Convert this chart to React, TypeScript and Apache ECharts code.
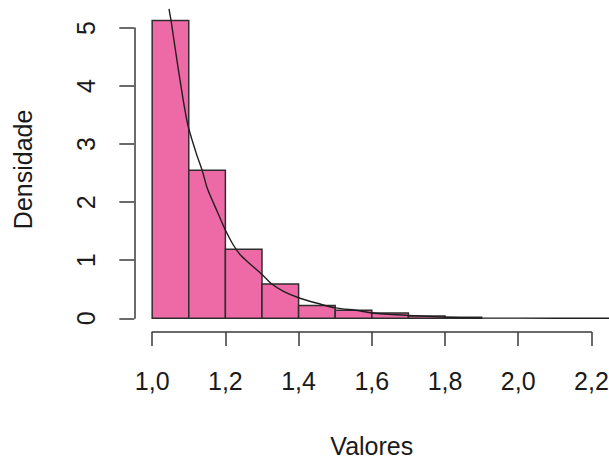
import { useEffect, useRef } from "react";
import * as echarts from "echarts";

// Histogram bins (density scale)
const binStarts = [1.0, 1.1, 1.2, 1.3, 1.4, 1.5, 1.6, 1.7, 1.8];
const binEnds = [1.1, 1.2, 1.3, 1.4, 1.5, 1.6, 1.7, 1.8, 1.9];
const densities = [5.13, 2.55, 1.19, 0.59, 0.22, 0.14, 0.09, 0.04, 0.02];

// Density curve
const curveX = [1.046, 1.052, 1.07, 1.096, 1.12, 1.137, 1.15, 1.17, 1.186, 1.2, 1.22, 1.24, 1.265, 1.301, 1.325, 1.36, 1.402, 1.456, 1.5, 1.566, 1.6, 1.7, 1.8, 1.89, 2.0, 2.248];
const curveY = [5.33, 5.11, 4.35, 3.37, 2.85, 2.54, 2.25, 1.95, 1.72, 1.52, 1.28, 1.1, 0.95, 0.75, 0.6, 0.46, 0.35, 0.25, 0.18, 0.13, 0.09, 0.05, 0.02, 0.006, 0.002, 0.0];

// Axis ticks
const xTicks = [1.0, 1.2, 1.4, 1.6, 1.8, 2.0, 2.2];
const xTickLabels = ["1,0", "1,2", "1,4", "1,6", "1,8", "2,0", "2,2"];
const yTicks = [0, 1, 2, 3, 4, 5];
const yTickLabels = ["0", "1", "2", "3", "4", "5"];

const W = 609;
const H = 459;
const X_MIN = 0.952;
const X_MAX = 2.248;
const Y_MIN = -0.2052;
const Y_MAX = 5.3352;
const PLOT_LEFT = 134.6;
const PLOT_RIGHT = 609;
const PLOT_TOP = 8.6;
const PLOT_BOTTOM = 330.2;
const KX = (PLOT_RIGHT - PLOT_LEFT) / (X_MAX - X_MIN);
const KY = (PLOT_BOTTOM - PLOT_TOP) / (Y_MAX - Y_MIN);
const FONT = "'Liberation Sans', Arial, sans-serif";
const TEXT = "#1a1a1a";
const AXIS = "#3a3a3a";

export default function App() {
  const ref = useRef<HTMLDivElement>(null);
  useEffect(() => {
    if (!ref.current) return;
    const chart = echarts.init(ref.current, undefined, { renderer: "svg" });
    const xAxisLeft = PLOT_LEFT + (xTicks[0] - X_MIN) * KX;
    const xAxisWidth = (xTicks[xTicks.length - 1] - xTicks[0]) * KX;
    const yAxisTop = PLOT_BOTTOM - (yTicks[yTicks.length - 1] - Y_MIN) * KY;
    const yAxisBottom = PLOT_BOTTOM - (yTicks[0] - Y_MIN) * KY;
    const findLabel = (ticks: number[], labels: string[], v: number) => {
      const i = ticks.findIndex((t) => Math.abs(t - v) < 1e-6);
      return i >= 0 ? labels[i] : "";
    };
    chart.setOption({
      animation: false,
      backgroundColor: "#ffffff",
      grid: [
        { left: PLOT_LEFT, top: PLOT_TOP, width: PLOT_RIGHT - PLOT_LEFT, height: PLOT_BOTTOM - PLOT_TOP, containLabel: false, outerBoundsMode: "none" },
        { left: xAxisLeft, top: 331, width: xAxisWidth, height: 1, containLabel: false, outerBoundsMode: "none" },
        { left: 134.3, top: yAxisTop, width: 1, height: yAxisBottom - yAxisTop, containLabel: false, outerBoundsMode: "none" },
      ],
      xAxis: [
        {
          gridIndex: 0, type: "value", min: X_MIN, max: X_MAX,
          axisLine: { show: false }, axisTick: { show: false }, axisLabel: { show: false }, splitLine: { show: false },
          name: "Valores", nameLocation: "middle", nameGap: 103,
          nameTextStyle: { fontSize: 25, color: TEXT, fontFamily: FONT },
        },
        {
          gridIndex: 1, type: "value", min: 1.0, max: 2.2, interval: 0.2, position: "bottom",
          axisLine: { show: true, lineStyle: { color: AXIS, width: 1.5 } },
          axisTick: { show: true, length: 14, lineStyle: { color: AXIS, width: 1.5 } },
          axisLabel: {
            show: true, margin: 36, fontSize: 25, color: TEXT, fontFamily: FONT,
            formatter: (v: number) => findLabel(xTicks, xTickLabels, v),
          },
          splitLine: { show: false },
        },
        { gridIndex: 2, type: "value", show: false },
      ],
      yAxis: [
        {
          gridIndex: 0, type: "value", min: Y_MIN, max: Y_MAX,
          axisLine: { show: false }, axisTick: { show: false }, axisLabel: { show: false }, splitLine: { show: false },
          name: "Densidade", nameLocation: "middle", nameRotate: 90, nameGap: 99,
          nameTextStyle: { fontSize: 25, color: TEXT, fontFamily: FONT },
        },
        { gridIndex: 1, type: "value", show: false },
        {
          gridIndex: 2, type: "value", min: 0, max: 5, interval: 1, position: "left",
          axisLine: { show: true, lineStyle: { color: AXIS, width: 1.5 } },
          axisTick: { show: true, length: 15, lineStyle: { color: AXIS, width: 1.5 } },
          axisLabel: {
            show: true, rotate: 90, margin: 36, fontSize: 25, color: TEXT, fontFamily: FONT,
            formatter: (v: number) => findLabel(yTicks, yTickLabels, v),
          },
          splitLine: { show: false },
        },
      ],
      series: [
        {
          type: "custom",
          xAxisIndex: 0,
          yAxisIndex: 0,
          data: binStarts.map((s, i) => [s, binEnds[i], densities[i]]),
          encode: { x: [0, 1], y: 2 },
          renderItem: (_params: any, api: any) => {
            const p0 = api.coord([api.value(0), api.value(2)]);
            const p1 = api.coord([api.value(1), 0]);
            return {
              type: "rect",
              shape: { x: p0[0], y: p0[1], width: p1[0] - p0[0], height: p1[1] - p0[1] },
              style: { fill: "#EE6AA7", stroke: "#2e2e2e", lineWidth: 1.5 },
            };
          },
        },
        {
          type: "line",
          xAxisIndex: 0,
          yAxisIndex: 0,
          data: curveX.map((x, i) => [x, curveY[i]]),
          showSymbol: false,
          smooth: 0.3,
          clip: true,
          lineStyle: { color: "#1e1e1e", width: 1.4 },
          z: 5,
        },
      ],
    });
    return () => chart.dispose();
  }, []);
  return <div ref={ref} style={{ position: "absolute", left: 0, top: 0, width: W, height: H }} />;
}
